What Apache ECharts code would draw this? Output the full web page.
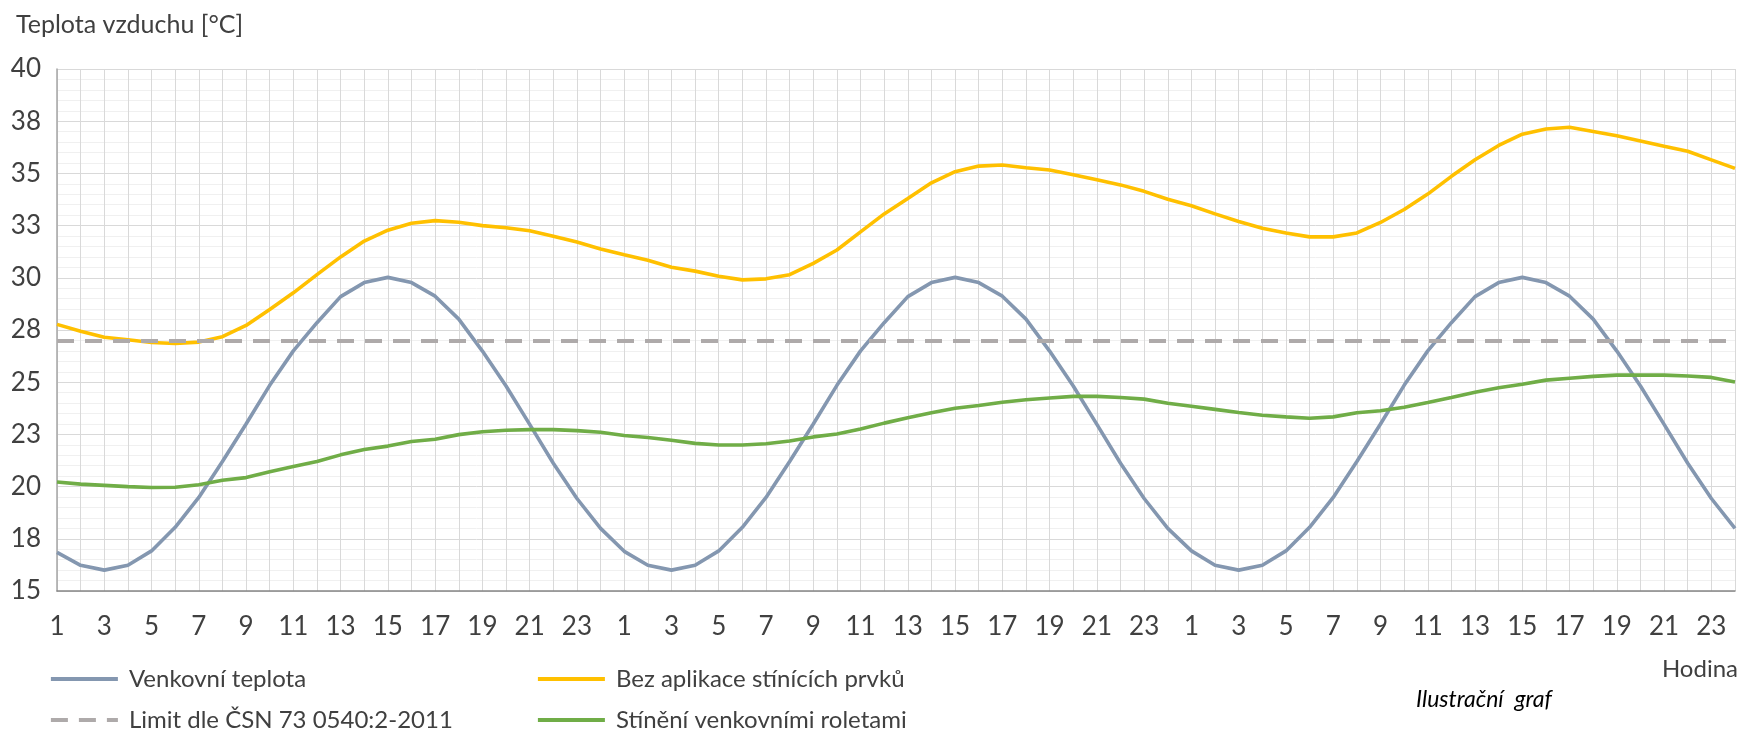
<!DOCTYPE html>
<html>
<head>
<meta charset="utf-8">
<script src="https://cdn.jsdelivr.net/npm/echarts@6/dist/echarts.min.js"></script>
<style>
  html, body { margin: 0; padding: 0; background: #fff; }
  #chart { width: 1740px; height: 734px; }
</style>
</head>
<body>
<div id="chart"></div>
<script>
// Hour labels for one day; the chart covers three consecutive days
const dayHours = ['1','2','3','4','5','6','7','8','9','10','11','12','13','14','15','16','17','18','19','20','21','22','23','24'];
const hours = [...dayHours, ...dayHours, ...dayHours];

// Y axis ticks and their printed labels
const yTicks = [15, 17.5, 20, 22.5, 25, 27.5, 30, 32.5, 35, 37.5, 40];
const yTickLabels = ['15', '18', '20', '23', '25', '28', '30', '33', '35', '38', '40'];

// Outdoor air temperature [°C]
const outdoor = [
  16.85, 16.23, 16.0, 16.23, 16.92, 18.05, 19.48, 21.2, 23.0, 24.85, 26.5, 27.85,
  29.1, 29.77, 30.02, 29.77, 29.12, 28.02, 26.49, 24.82, 22.98, 21.12, 19.43, 18.0,
  16.9, 16.23, 16.0, 16.23, 16.92, 18.05, 19.48, 21.2, 23.0, 24.85, 26.5, 27.85,
  29.1, 29.77, 30.02, 29.77, 29.12, 28.02, 26.49, 24.82, 22.98, 21.12, 19.43, 18.0,
  16.92, 16.23, 16.0, 16.23, 16.92, 18.05, 19.48, 21.2, 23.0, 24.85, 26.5, 27.85,
  29.1, 29.77, 30.02, 29.77, 29.12, 28.02, 26.49, 24.82, 22.98, 21.12, 19.43, 18.0
];

// Indoor temperature without shading [°C]
const noShading = [
  27.77, 27.44, 27.15, 27.03, 26.9, 26.85, 26.92, 27.18, 27.72, 28.48, 29.28, 30.15,
  31.0, 31.76, 32.28, 32.61, 32.74, 32.66, 32.5, 32.4, 32.25, 31.99, 31.71, 31.38,
  31.1, 30.84, 30.51, 30.32, 30.07, 29.9, 29.95, 30.15, 30.69, 31.33, 32.2, 33.06,
  33.8, 34.55, 35.08, 35.35, 35.4, 35.27, 35.16, 34.94, 34.7, 34.45, 34.14, 33.76,
  33.45, 33.06, 32.7, 32.37, 32.15, 31.96, 31.96, 32.15, 32.65, 33.27, 34.01, 34.86,
  35.65, 36.34, 36.88, 37.13, 37.21, 37.01, 36.8, 36.55, 36.3, 36.06, 35.65, 35.24
];

// Indoor temperature with exterior roller shutters [°C]
const shutters = [
  20.22, 20.12, 20.06, 20.0, 19.96, 19.97, 20.09, 20.3, 20.43, 20.71, 20.96, 21.2,
  21.52, 21.78, 21.94, 22.16, 22.27, 22.49, 22.63, 22.7, 22.73, 22.73, 22.68, 22.6,
  22.45, 22.35, 22.22, 22.07, 21.99, 21.99, 22.05, 22.18, 22.38, 22.52, 22.76, 23.04,
  23.3, 23.54, 23.75, 23.88, 24.04, 24.16, 24.24, 24.32, 24.32, 24.27, 24.19, 23.99,
  23.85, 23.7, 23.55, 23.42, 23.34, 23.27, 23.34, 23.54, 23.63, 23.8, 24.03, 24.27,
  24.52, 24.73, 24.9, 25.1, 25.19, 25.28, 25.34, 25.34, 25.34, 25.3, 25.23, 25.01
];

// Limit value according to ČSN 73 0540:2-2011 [°C]
const limitValue = 27;

const FONT = 'Lato, "Open Sans", sans-serif';
const TEXT = '#404040';

const names = {
  outdoor: 'Venkovní teplota',
  limit: 'Limit dle ČSN 73 0540:2-2011',
  noShading: 'Bez aplikace stínících prvků',
  shutters: 'Stínění venkovními roletami'
};

// Shared look of both legend columns: plain line keys, no point marker
const legendBase = {
  orient: 'vertical', top: 662, height: 100,
  itemWidth: 67, itemHeight: 14, itemGap: 17,
  selectedMode: false,
  itemStyle: { color: 'rgba(0,0,0,0)', borderWidth: 0, borderColor: 'rgba(0,0,0,0)' },
  lineStyle: { width: 3.8 },
  textStyle: { fontFamily: FONT, fontSize: 24, color: TEXT, padding: [0, 0, 0, 6] }
};

const chart = echarts.init(document.getElementById('chart'));
chart.setOption({
  animation: false,
  title: {
    text: 'Teplota vzduchu [°C]',
    left: 11,
    top: 7,
    textStyle: { fontFamily: FONT, fontSize: 25, fontWeight: 'normal', color: TEXT }
  },
  grid: { left: 57, right: 5, top: 69, bottom: 143, containLabel: false },
  legend: [
    Object.assign({}, legendBase, { data: [names.outdoor, names.limit], left: 44 }),
    Object.assign({}, legendBase, { data: [names.noShading, names.shutters], left: 531 })
  ],
  xAxis: {
    type: 'category',
    data: hours,
    boundaryGap: false,
    axisLine: { show: true, lineStyle: { color: '#868686', width: 1.5 } },
    axisTick: { show: false },
    axisLabel: { interval: 1, margin: 23, fontFamily: FONT, fontSize: 26, color: TEXT },
    splitLine: { show: true, interval: 0, lineStyle: { color: '#d9d9d9', width: 1 } }
  },
  yAxis: {
    type: 'value',
    min: 15, max: 40, interval: 2.5,
    axisLine: { show: true, lineStyle: { color: '#a6a6a6', width: 1.5 } },
    axisTick: { show: false },
    axisLabel: {
      margin: 16, fontFamily: FONT, fontSize: 26, color: TEXT,
      formatter: v => {
        const i = yTicks.findIndex(t => Math.abs(t - v) < 1e-6);
        return i >= 0 ? yTickLabels[i] : '';
      }
    },
    splitLine: { show: true, lineStyle: { color: '#d9d9d9', width: 1 } },
    minorTick: { show: false, splitNumber: 5 },
    minorSplitLine: { show: true, lineStyle: { color: '#f0f0f0', width: 1 } }
  },
  series: [
    {
      name: names.outdoor, type: 'line', data: outdoor,
      symbol: 'none', smooth: false, z: 3,
      lineStyle: { color: '#8497b0', width: 3.6 },
      itemStyle: { color: '#8497b0' },
      emphasis: { disabled: true }
    },
    {
      name: names.noShading, type: 'line', data: noShading,
      symbol: 'none', smooth: false, z: 3,
      lineStyle: { color: '#ffc000', width: 3.6 },
      itemStyle: { color: '#ffc000' },
      emphasis: { disabled: true }
    },
    {
      name: names.limit, type: 'line', data: [],
      symbol: 'none', z: 2,
      lineStyle: { color: '#aeaaaa', width: 4, type: [17, 11] },
      itemStyle: { color: '#aeaaaa' },
      markLine: {
        silent: true, symbol: 'none',
        label: { show: false },
        lineStyle: { color: '#aeaaaa', width: 4, type: [17, 11] },
        emphasis: { disabled: true },
        data: [{ yAxis: limitValue }]
      }
    },
    {
      name: names.shutters, type: 'line', data: shutters,
      symbol: 'none', smooth: false, z: 3,
      lineStyle: { color: '#70ad47', width: 3.6 },
      itemStyle: { color: '#70ad47' },
      emphasis: { disabled: true }
    }
  ],
  graphic: [
    {
      type: 'text', right: 2, top: 657,
      style: { text: 'Hodina', fontFamily: FONT, fontSize: 24, fill: TEXT }
    },
    {
      type: 'text', left: 1416, top: 688,
      style: { text: 'Ilustrační  graf', fontFamily: FONT, fontSize: 23, fontStyle: 'italic', fill: '#000' }
    }
  ]
});
</script>
</body>
</html>
